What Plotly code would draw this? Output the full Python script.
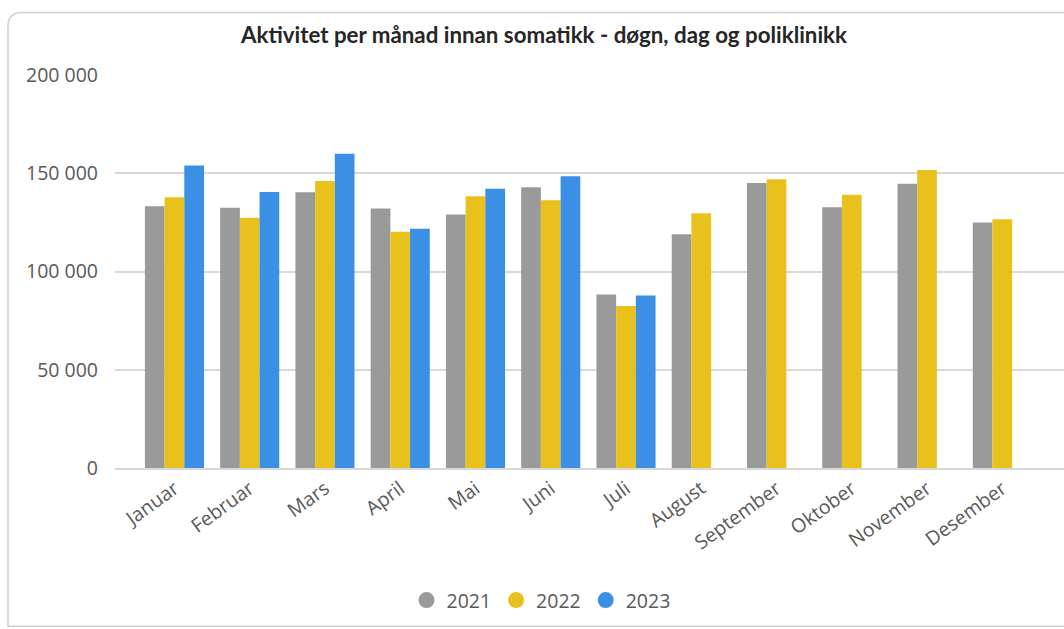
import plotly.graph_objects as go

months = ["Januar", "Februar", "Mars", "April", "Mai", "Juni", "Juli",
          "August", "September", "Oktober", "November", "Desember"]
v2021 = [133200, 132500, 140300, 132000, 129000, 142900, 88300,
         119000, 145100, 132700, 144600, 124900]
v2022 = [137800, 127300, 146100, 120200, 138300, 136300, 82500,
         129700, 147000, 139000, 151700, 126600]
v2023 = [153900, 140500, 159900, 121700, 142100, 148500, 87800,
         None, None, None, None, None]
years = ["2021", "2022", "2023"]
colors = ["#9A9A9A", "#E8C11C", "#3B8FE5"]
y_ticks = [0, 50000, 100000, 150000, 200000]
y_tick_text = ["0", "50 000", "100 000", "150 000", "200 000"]

W, H = 1064, 629
L, R = 115, 0
T, B = 74.5, 629 - 467.6
PW = W - L - R
PH = H - T - B

fig = go.Figure()
for name, vals, col in zip(years, [v2021, v2022, v2023], colors):
    fig.add_trace(go.Bar(x=months, y=vals, name=name, marker_color=col,
                         marker_line_width=0, showlegend=False))
for name, col in zip(years, colors):
    fig.add_trace(go.Scatter(x=[None], y=[None], mode="markers", name=name,
                             marker=dict(color=col, size=18, symbol="circle")))

def px(x):
    return (x - L) / PW

def py(y):
    return (H - B - y) / PH

# card border
x0, y0, x1, y1, r = px(8), py(12), px(1075), py(626), 14
rx, ry = r / PW, r / PH
path = (f"M {x0},{y1} L {x0},{y0 - ry} Q {x0},{y0} {x0 + rx},{y0} "
        f"L {x1},{y0} L {x1},{y1} Z")
fig.add_shape(type="path", path=path, xref="paper", yref="paper",
              line=dict(color="#D0D0D0", width=1.5), layer="below")

fig.update_layout(
    width=W, height=H,
    margin=dict(l=L, r=R, t=T, b=B),
    paper_bgcolor="white", plot_bgcolor="white",
    barmode="group", bargap=0.215, bargroupgap=0,
    font=dict(family="Open Sans", color="#595959", size=15),
    title=dict(text="<b>Aktivitet per månad innan somatikk - døgn, dag og poliklinikk</b>",
               x=544 / W, y=1 - 35 / H, xanchor="center", yanchor="middle",
               font=dict(family="Lato", size=22.3, color="#262626")),
    legend=dict(orientation="h", x=px(541), y=py(600), xanchor="center",
                yanchor="middle", font=dict(size=19.5, color="#595959"),
                itemwidth=30, tracegroupgap=0),
    xaxis=dict(range=[-0.79, 11.82], tickangle=-36, showgrid=False,
               showline=True, linecolor="#D9D9D9", linewidth=1.5,
               ticks="", tickfont=dict(size=19.5, color="#595959")),
    yaxis=dict(range=[0, 200000], tickvals=y_ticks, ticktext=y_tick_text,
               showgrid=True, gridcolor="#D9D9D9", gridwidth=1.5,
               zeroline=False, showline=False, ticks="",
               ticklabelstandoff=16, tickfont=dict(size=19.5, color="#595959")),
)

fig.write_html("out.html")
